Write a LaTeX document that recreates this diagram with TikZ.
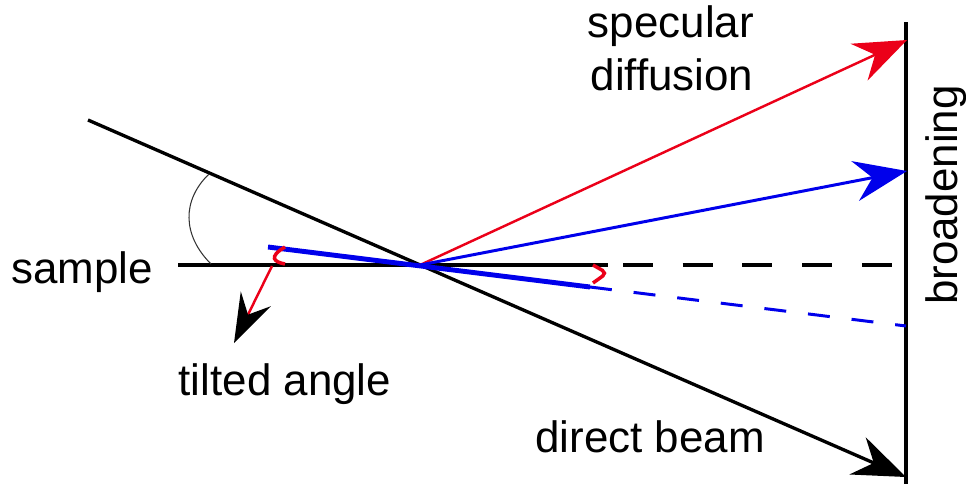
\documentclass[tikz,border=0pt]{standalone}
\usepackage{fontspec}
\setmainfont{Liberation Sans}
\usepackage{xcolor}
\usetikzlibrary{arrows.meta,positioning}
\definecolor{beamred}{RGB}{235,0,25}
\definecolor{beamblue}{RGB}{0,0,235}

\begin{document}
\begin{tikzpicture}[x=0.02cm, y=-0.02cm,
    lbl/.style={font=\fontsize{25}{30}\selectfont, inner sep=0pt, anchor=base},
    tip/.style={-{Stealth[length=30pt, width=23pt, inset=10pt]}},
    thickline/.style={line width=1.9pt}
]
    \useasboundingbox (0,0) rectangle (966,484);

    % Key points
    \coordinate (src) at (88,120);
    \coordinate (O) at (420,265);
    \coordinate (hit) at (906,477);
    \coordinate (spec) at (907,40);
    \coordinate (refl) at (907,171);
    \coordinate (sL) at (178,265);
    \coordinate (sR) at (608,265);
    \coordinate (dL) at (623,265);
    \coordinate (dR) at (893,265);
    \coordinate (tL) at (268,247);
    \coordinate (tR) at (590,287);
    \coordinate (tEnd) at (906,326);
    \coordinate (detTop) at (906,22);
    \coordinate (detBot) at (906,484);
    \coordinate (tiltFrom) at (272,266);
    \coordinate (tiltTo) at (234,343);

    % Detector
    \draw[line width=2pt] (detTop) -- (detBot);

    % Sample surface
    \draw[thickline] (sL) -- (sR);
    \draw[thickline, dash pattern=on 17pt off 17pt] (dL) -- (dR);

    % Direct beam
    \draw[thickline, tip] (src) -- (hit);

    % Angle arc
    \draw[line width=0.6pt, black!80] (209,174) .. controls (182,200) and (182,235) .. (211,264);

    % Tilted sample
    \draw[line width=2.8pt, beamblue] (tL) -- (tR);
    \draw[line width=1.7pt, beamblue, dash pattern=on 12.5pt off 12.5pt] (tR) -- (tEnd);

    % Reflected beams
    \draw[line width=1.4pt, beamred, tip] (O) -- (spec);
    \draw[line width=1.7pt, beamblue, tip] (O) -- (refl);

    % Tilt marks
    \draw[line width=2pt, beamred] (285,247) .. controls (268,257) and (274,262) .. (285,264);
    \draw[line width=2pt, beamred, rounded corners=3pt] (593,265) -- (607,273) -- (593,283);
    \draw[line width=1.4pt, beamred, -{Stealth[length=28pt, width=19pt, inset=10pt, color=black]}] (tiltFrom) -- (tiltTo);

    % Labels
    \node[lbl] (sample) at (82,283) {sample};
    \node[lbl] (tilt) at (285,395) {tilted angle};
    \node[lbl] (specA) at (671,37) {specular};
    \node[lbl] (specB) at (672,90) {diffusion};
    \node[lbl] (direct) at (650,452) {direct beam};
    \node[lbl, rotate=90] (broad) at (957,195) {broadening};
\end{tikzpicture}
\end{document}
